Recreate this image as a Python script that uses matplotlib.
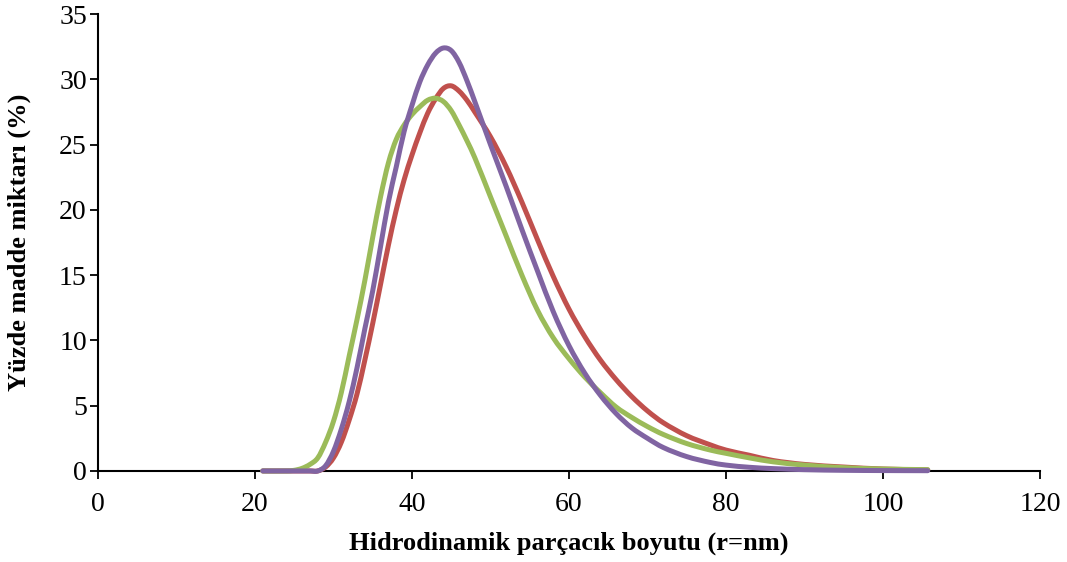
import matplotlib
matplotlib.use("Agg")
import matplotlib.pyplot as plt
from matplotlib.path import Path
from matplotlib.patches import PathPatch

x_size = [21, 24, 25, 26, 27, 28, 29, 30, 31, 32, 33, 34, 35, 36, 37, 38, 39, 40,
          41, 42, 43, 44, 45, 46, 47, 48, 50, 52, 54, 56, 58, 60, 62, 64, 66, 68,
          70, 72, 75, 78, 80, 83, 86, 90, 95, 100, 105.7]

red_values = [0, 0, 0, 0, 0, 0, 0.3, 1.0, 2.2, 3.9, 5.9, 8.5, 11.3, 14.3, 17.3, 20.0,
              22.3, 24.2, 25.9, 27.4, 28.5, 29.3, 29.5, 29.1, 28.4, 27.5, 25.6, 23.3,
              20.6, 17.7, 14.9, 12.4, 10.3, 8.5, 7.0, 5.7, 4.6, 3.7, 2.7, 2.0, 1.6,
              1.2, 0.8, 0.5, 0.3, 0.15, 0.08]

green_values = [0, 0, 0.05, 0.2, 0.5, 1.0, 2.2, 3.8, 6.0, 8.8, 11.6, 14.6, 17.9, 21.0,
                23.6, 25.4, 26.5, 27.3, 27.9, 28.4, 28.55, 28.3, 27.6, 26.5, 25.3, 24.0,
                21.0, 18.0, 15.0, 12.3, 10.2, 8.6, 7.2, 6.0, 4.9, 4.1, 3.4, 2.8, 2.1,
                1.6, 1.35, 1.0, 0.7, 0.45, 0.25, 0.15, 0.1]

purple_values = [0, 0, 0, 0, 0, 0, 0.4, 1.5, 3.2, 5.3, 7.9, 10.9, 13.8, 17.2, 20.6, 23.3,
                 26.0, 28.0, 29.8, 31.1, 32.0, 32.4, 32.2, 31.3, 29.9, 28.3, 25.0, 21.8,
                 18.5, 15.3, 12.2, 9.6, 7.5, 5.8, 4.4, 3.3, 2.5, 1.8, 1.1, 0.65, 0.45,
                 0.28, 0.18, 0.1, 0.05, 0.03, 0.02]

x_ticks = [0, 20, 40, 60, 80, 100, 120]
y_ticks = [0, 5, 10, 15, 20, 25, 30, 35]

plt.rcParams['font.family'] = ['Liberation Serif', 'DejaVu Serif']


def smooth_path(xs, ys):
    """Smoothed line through the data points (cubic Hermite segments drawn as Bezier curves)."""
    n = len(xs)
    slopes = []
    for i in range(n):
        a = max(i - 1, 0)
        b = min(i + 1, n - 1)
        slopes.append((ys[b] - ys[a]) / (xs[b] - xs[a]))
    verts = [(xs[0], ys[0])]
    codes = [Path.MOVETO]
    for i in range(n - 1):
        h = xs[i + 1] - xs[i]
        c1 = (xs[i] + h / 3.0, ys[i] + slopes[i] * h / 3.0)
        c2 = (xs[i + 1] - h / 3.0, ys[i + 1] - slopes[i + 1] * h / 3.0)
        verts += [c1, c2, (xs[i + 1], ys[i + 1])]
        codes += [Path.CURVE4, Path.CURVE4, Path.CURVE4]
    return Path(verts, codes)


fig = plt.figure(figsize=(10.67, 5.62), dpi=100)
ax = fig.add_axes([0.0918, 0.162, 0.8829, 0.813])

lw = 3.6
series = [(red_values, '#C0504D', 3), (green_values, '#9BBB59', 4), (purple_values, '#8064A2', 5)]
for vals, col, z in series:
    patch = PathPatch(smooth_path(x_size, vals), facecolor='none', edgecolor=col, lw=lw,
                      capstyle='round', joinstyle='round', clip_on=False, zorder=z)
    ax.add_patch(patch)

ax.set_xlim(0, 120)
ax.set_ylim(0, 35)
ax.set_xticks(x_ticks)
ax.set_yticks(y_ticks)
ax.tick_params(direction='out', length=6, width=1.3, labelsize=20)
ax.tick_params(axis='x', pad=9)
ax.tick_params(axis='y', pad=2)
for s in ['top', 'right']:
    ax.spines[s].set_visible(False)
for s in ['left', 'bottom']:
    ax.spines[s].set_linewidth(1.5)

ax.set_xlabel('Hidrodinamik parçacık boyutu (r=nm)', fontsize=19, fontweight='bold', labelpad=11)
ax.set_ylabel('Yüzde madde miktarı (%)', fontsize=19, fontweight='bold', labelpad=20)

fig.savefig('out.png', dpi=100)
